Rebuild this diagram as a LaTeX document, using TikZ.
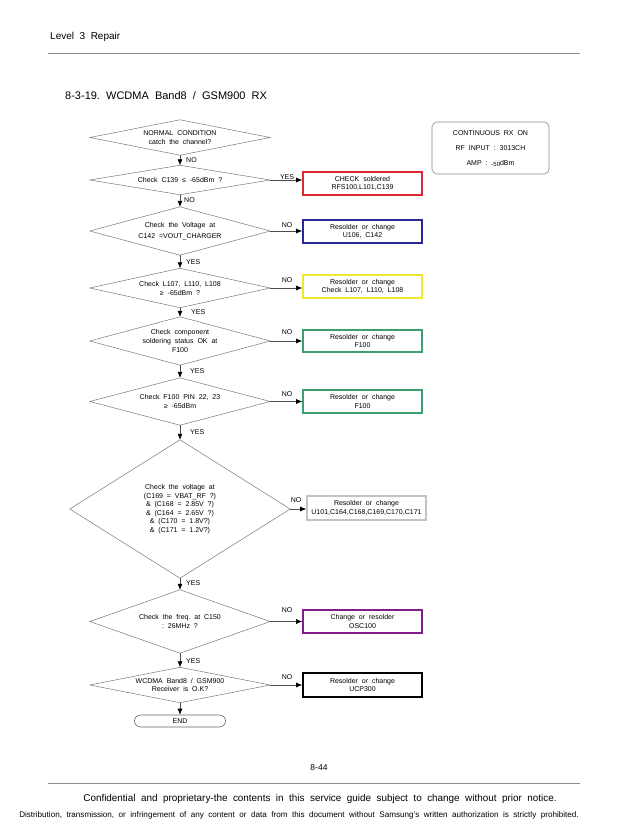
\documentclass[tikz,border=0pt]{standalone}
\usepackage{fontspec}
\setmainfont{Liberation Sans}
\usetikzlibrary{arrows.meta}
\definecolor{bred}{RGB}{218,40,50}
\definecolor{bblue}{RGB}{40,40,150}
\definecolor{byellow}{RGB}{240,230,50}
\definecolor{bgreen}{RGB}{60,160,110}
\definecolor{bgray}{RGB}{195,195,195}
\definecolor{bpurple}{RGB}{130,30,140}
\definecolor{edge}{RGB}{120,120,120}
\newcommand\fs{\fontsize{7}{8.6}\selectfont}
\newcommand\drawdia[1]{\draw[diaedge] (#1.west)--(#1.north)--(#1.east)--(#1.south)--cycle;}
\begin{document}
\begin{tikzpicture}[x=1pt,y=-1pt,
  dia/.style={draw=none,inner sep=0pt,minimum width=180pt,align=center,font=\fs},
  diaedge/.style={draw=edge,line width=0.5pt},
  act/.style={draw,line width=1.6pt,minimum width=119pt,align=center,font=\fs,inner sep=1pt},
  flow/.style={draw=black!70,line width=0.6pt,-{Latex[length=6pt,width=5pt,color=black]}},
  lbl/.style={font=\fs,inner sep=0pt},
  rule/.style={draw=black!45,line width=0.8pt}]
\useasboundingbox (0,0) rectangle (638,826);
% header / footer
\node[anchor=west,inner sep=0pt,font=\fontsize{10}{12}\selectfont] (hdr) at (50,37) {Level\ \ 3\ \ Repair};
\coordinate (hl1) at (48,53); \coordinate (hl2) at (580,53);
\draw[rule] (hl1) -- (hl2);
\node[anchor=west,inner sep=0pt,font=\fontsize{11}{13}\selectfont] (title) at (65,96) {8-3-19.\ \ WCDMA\ \ Band8\ \ /\ \ GSM900\ \ RX};
\node[inner sep=0pt,font=\fontsize{8.5}{10}\selectfont] (pg) at (319,768) {8-44};
\coordinate (fl1) at (48,783); \coordinate (fl2) at (580,783);
\draw[rule] (fl1) -- (fl2);
\node[inner sep=0pt,font=\fontsize{9.9}{12}\selectfont] (conf) at (320,799) {Confidential\ \ and\ \ proprietary-the\ \ contents\ \ in\ \ this\ \ service\ \ guide\ \ subject\ \ to\ \ change\ \ without\ \ prior\ \ notice.};
\node[inner sep=0pt,font=\fontsize{8.1}{9}\selectfont] (dist) at (299,815) {Distribution,\ \ transmission,\ \ or\ \ infringement\ \ of\ \ any\ \ content\ \ or\ \ data\ \ from\ \ this\ \ document\ \ without\ \ Samsung's\ \ written\ \ authorization\ \ is\ \ strictly\ \ prohibited.};
% info box
\node[draw=black!45,line width=0.6pt,rounded corners=5pt,minimum width=117pt,minimum height=52pt,font=\fs,align=center] (info) at (490.5,148) {};
\node[lbl] (i1) at (490.5,133) {CONTINUOUS\ \ RX\ \ ON};
\node[lbl] (i2) at (490.5,148) {RF\ \ INPUT\ \ :\ \ 3013CH};
\node[lbl] (i3) at (490.5,163) {AMP\ \ :\ \ {\fontsize{6}{7}\selectfont\raisebox{-1pt}{-50}}dBm};
% diamonds
\node[dia,minimum height=35pt] (d1) at (180,137.5) {NORMAL\ \ CONDITION\\catch\ \ the\ \ channel?};
\node[dia,minimum height=29pt] (d2) at (180,180) {Check\ \ C139\ \ ≤\ \ -65dBm\ \ ?};
\node[dia,minimum height=48pt] (d3) at (180,231) {Check\ \ the\ \ Voltage\ \ at\\[2.5pt]C142\ \ =VOUT\_CHARGER};
\node[dia,minimum height=39pt,font=\fontsize{7}{9}\selectfont] (d4) at (180,288) {Check\ \ L107,\ \ L110,\ \ L108\\≥\ \ -65dBm\ \ ?};
\node[dia,minimum height=48pt] (d5) at (180,341) {Check\ \ component\\soldering\ \ status\ \ OK\ \ at\\F100};
\node[dia,minimum height=47pt] (d6) at (180,401.5) {Check\ \ F100\ \ PIN\ \ 22,\ \ 23\\≥\ \ -65dBm};
\node[dia,minimum width=220pt,minimum height=138pt,font=\fontsize{7}{8.5}\selectfont] (d7) at (180,509) {Check\ \ the\ \ voltage\ \ at\\(C169\ \ =\ \ VBAT\_RF\ \ ?)\\\&\ \ (C168\ \ =\ \ 2.85V\ \ ?)\\\&\ \ (C164\ \ =\ \ 2.65V\ \ ?)\\\&\ \ (C170\ \ =\ \ 1.8V?)\\\&\ \ (C171\ \ =\ \ 1.2V?)};
\node[dia,minimum height=63pt] (d8) at (180,621.5) {Check\ \ the\ \ freq.\ \ at\ \ C150\\:\ \ 26MHz\ \ ?};
\node[dia,minimum height=35pt,font=\fontsize{7}{7.6}\selectfont] (d9) at (180,685) {WCDMA\ \ Band8\ \ /\ \ GSM900\\Receiver\ \ is\ \ O.K?};
\foreach \n in {d1,d2,d3,d4,d5,d6,d7,d8,d9} {\drawdia{\n}}
\node[draw=black!60,line width=0.6pt,rounded corners=6pt,minimum width=91pt,minimum height=12pt,inner sep=0pt,font=\fs] (end) at (180,721) {END};
% action boxes
\node[act,draw=bred,minimum height=23pt] (b1) at (362.5,183.5) {CHECK\ \ soldered\\RFS100,L101,C139};
\node[act,draw=bblue,minimum height=23pt] (b2) at (362.5,231.5) {Resolder\ \ or\ \ change\\U106,\ \ C142};
\node[act,draw=byellow,minimum height=23pt] (b3) at (362.5,286.5) {Resolder\ \ or\ \ change\\Check\ \ L107,\ \ L110,\ \ L108};
\node[act,draw=bgreen,minimum height=22pt] (b4) at (362.5,341) {Resolder\ \ or\ \ change\\F100};
\node[act,draw=bgreen,minimum height=23pt] (b5) at (362.5,401.5) {Resolder\ \ or\ \ change\\F100};
\node[act,draw=bgray,minimum height=24pt] (b6) at (366.5,508) {Resolder\ \ or\ \ change\\U101,C164,C168,C169,C170,C171};
\node[act,draw=bpurple,minimum height=23pt] (b7) at (362.5,621.5) {Change\ \ or\ \ resolder\\OSC100};
\node[act,draw=black,minimum height=24pt] (b8) at (362.5,685) {Resolder\ \ or\ \ change\\UCP300};
% vertical flow
\draw[flow] (d1.south) -- (d2.north);
\draw[flow] (d2.south) -- (d3.north);
\draw[flow] (d3.south) -- (d4.north);
\draw[flow] (d4.south) -- (d5.north);
\draw[flow] (d5.south) -- (d6.north);
\draw[flow] (d6.south) -- (d7.north);
\draw[flow] (d7.south) -- (d8.north);
\draw[flow] (d8.south) -- (d9.north);
\draw[flow] (d9.south) -- (end.north);
\node[lbl,anchor=west] (l1) at (186,160) {NO};
\node[lbl,anchor=west] (l2) at (184,200.5) {NO};
\node[lbl,anchor=west] (l3) at (186,262) {YES};
\node[lbl,anchor=west] (l4) at (191,312) {YES};
\node[lbl,anchor=west] (l5) at (190,371) {YES};
\node[lbl,anchor=west] (l6) at (190,432) {YES};
\node[lbl,anchor=west] (l7) at (186,583.5) {YES};
\node[lbl,anchor=west] (l8) at (186,661) {YES};
% horizontal flow
\draw[flow] (d2.east) -- (d2.east -| b1.west);
\draw[flow] (d3.east) -- (d3.east -| b2.west);
\draw[flow] (d4.east) -- (d4.east -| b3.west);
\draw[flow] (d5.east) -- (d5.east -| b4.west);
\draw[flow] (d6.east) -- (d6.east -| b5.west);
\draw[flow] (d7.east) -- (d7.east -| b6.west);
\draw[flow] (d8.east) -- (d8.east -| b7.west);
\draw[flow] (d9.east) -- (d9.east -| b8.west);
\node[lbl] (h2) at (287,177) {YES};
\node[lbl] (h3) at (287,225) {NO};
\node[lbl] (h4) at (287,280) {NO};
\node[lbl] (h5) at (287,332) {NO};
\node[lbl] (h6) at (287,394) {NO};
\node[lbl] (h7) at (296,500) {NO};
\node[lbl] (h8) at (287,610) {NO};
\node[lbl] (h9) at (287,677) {NO};
\end{tikzpicture}
\end{document}
